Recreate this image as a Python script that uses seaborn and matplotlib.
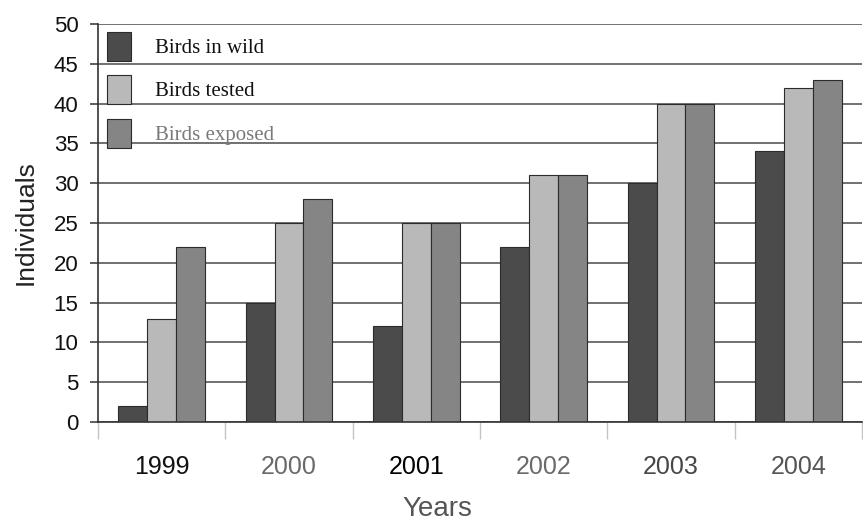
import matplotlib
matplotlib.use("Agg")
import matplotlib.pyplot as plt
import seaborn as sns
import pandas as pd
from matplotlib.ticker import FixedLocator

# Survey counts per year
years = ["1999", "2000", "2001", "2002", "2003", "2004"]
series = ["Birds in wild", "Birds tested", "Birds exposed"]
birds_in_wild = [2, 15, 12, 22, 30, 34]
birds_tested = [13, 25, 25, 31, 40, 42]
birds_exposed = [22, 28, 25, 31, 40, 43]
y_ticks = [0, 5, 10, 15, 20, 25, 30, 35, 40, 45, 50]

bar_colors = ["#4b4b4b", "#b9b9b9", "#858585"]
year_label_colors = ["#111111", "#6a6a6a", "#000000", "#6a6a6a", "#474747", "#555555"]

df = pd.DataFrame({
    "Year": years * 3,
    "Individuals": birds_in_wild + birds_tested + birds_exposed,
    "Series": [s for s in series for _ in years],
})

sns.set_theme(style="white")
plt.rcParams["font.family"] = ["Liberation Sans", "DejaVu Sans"]

fig = plt.figure(figsize=(8.63, 5.25), dpi=100)
ax = fig.add_axes([98 / 863, 1 - 422 / 525, 764 / 863, 398 / 525])

sns.barplot(data=df, x="Year", y="Individuals", hue="Series",
            hue_order=series, order=years, palette=bar_colors,
            saturation=1, width=0.68, gap=0, edgecolor="#2b2b2b",
            linewidth=0.8, ax=ax)

ax.set_ylim(0, 50)
ax.set_xlim(-0.5, len(years) - 0.5)
ax.set_yticks(y_ticks)
ax.set_yticklabels([str(t) for t in y_ticks], fontsize=16, color="#111111")
ax.set_axisbelow(True)
ax.yaxis.grid(True, color="#4a4a4a", linewidth=1.1)
ax.xaxis.grid(False)

for side in ["top", "right"]:
    ax.spines[side].set_visible(False)
for side in ["left", "bottom"]:
    ax.spines[side].set_visible(True)
    ax.spines[side].set_color("#333333")
    ax.spines[side].set_linewidth(1.2)

ax.tick_params(axis="y", which="major", direction="out", length=6,
               width=1.1, color="#333333", pad=8, left=True)
ax.tick_params(axis="x", which="major", length=0, pad=24)
ax.xaxis.set_minor_locator(FixedLocator([i + 0.5 for i in range(-1, len(years))]))
ax.tick_params(axis="x", which="minor", direction="out", length=12,
               width=1.0, color="#c4c4c4", bottom=True)

ax.set_xticks(range(len(years)))
ax.set_xticklabels(years, fontsize=18,
                   family=["Liberation Sans Narrow", "Liberation Sans", "DejaVu Sans"])
for lbl, c in zip(ax.get_xticklabels(), year_label_colors):
    lbl.set_color(c)

ax.set_xlabel("Years", fontsize=20, color="#555555")
ax.xaxis.set_label_coords((437 - 98) / 764, -(496 - 422) / 398)
ax.set_ylabel("Individuals", fontsize=19, color="#222222")
ax.yaxis.set_label_coords(-(98 - 38) / 764, 0.5)

handles, labels = ax.get_legend_handles_labels()
if ax.get_legend() is not None:
    ax.get_legend().remove()
leg = ax.legend(handles, labels, loc="upper left",
                bbox_to_anchor=(0.012, 0.98), borderaxespad=0, borderpad=0,
                frameon=False, handlelength=1.15, handleheight=1.75,
                handletextpad=1.15, labelspacing=0.7,
                prop={"family": ["Liberation Serif", "DejaVu Serif"], "size": 15})
for txt, c in zip(leg.get_texts(), ["#111111", "#111111", "#7a7a7a"]):
    txt.set_color(c)

fig.savefig("out.png", dpi=100)
